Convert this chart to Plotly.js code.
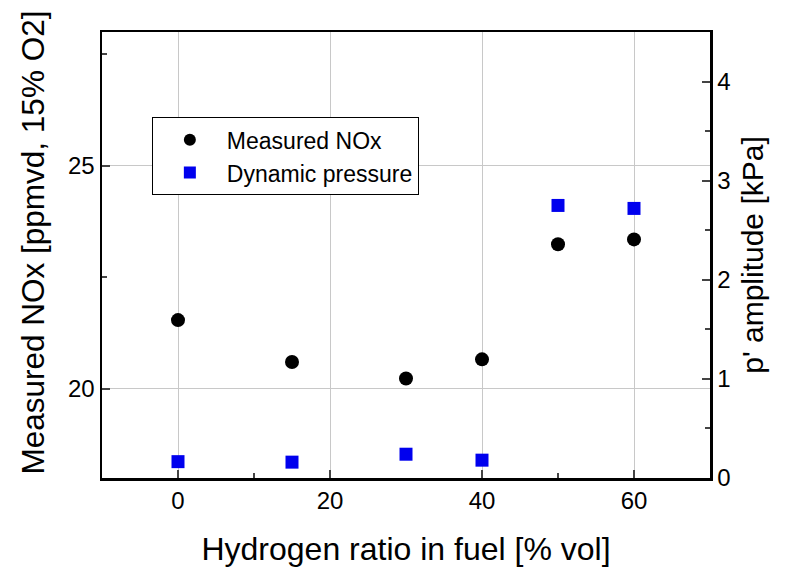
<!DOCTYPE html>
<html><head><meta charset="utf-8">
<script src="https://cdn.plot.ly/plotly-3.0.1.min.js"></script>
<style>body{margin:0;background:#fff}</style>
</head><body>
<div id="chart" style="width:794px;height:577px"></div>
<script>
const hydrogenRatio = [0, 15, 30, 40, 50, 60];
const measuredNOx = [21.54, 20.6, 20.23, 20.66, 23.24, 23.35];
const dynamicPressure = [0.165, 0.16, 0.24, 0.18, 2.75, 2.72];

const fnt = 'Arial, "Liberation Sans", sans-serif';

const traces = [
  {x: hydrogenRatio, y: measuredNOx, name: 'Measured NOx', type: 'scatter', mode: 'markers',
   marker: {symbol: 'circle', size: 14, color: '#000'}, yaxis: 'y'},
  {x: hydrogenRatio, y: dynamicPressure, name: 'Dynamic pressure', type: 'scatter', mode: 'markers',
   marker: {symbol: 'square', size: 13, color: '#0000ee'}, yaxis: 'y2'}
];

const layout = {
  width: 794, height: 577,
  margin: {l: 102, r: 84, t: 32, b: 99},
  paper_bgcolor: '#fff', plot_bgcolor: '#fff',
  font: {family: fnt, color: '#000', size: 24},
  showlegend: true,
  legend: {x: 0.082, y: 0.809, xanchor: 'left', yanchor: 'top', bgcolor: '#fff',
    bordercolor: '#000', borderwidth: 1, font: {size: 23, family: fnt}, itemsizing: 'constant',
    itemwidth: 64, tracegroupgap: 0},
  xaxis: {range: [-10, 70], tickvals: [0, 20, 40, 60], ticks: 'inside', ticklen: 8, tickwidth: 2,
    showline: true, linewidth: 2.5, linecolor: '#000', mirror: true,
    showgrid: true, gridcolor: '#c8c8c8', gridwidth: 1, zeroline: false,
    minor: {ticks: 'inside', tickvals: [10, 50], ticklen: 5, tickwidth: 2, showgrid: false},
    tickfont: {size: 24},
    title: {text: 'Hydrogen ratio in fuel [% vol]', font: {size: 32}, standoff: 25}},
  yaxis: {range: [18, 28], tickvals: [20, 25], ticks: 'inside', ticklen: 8, tickwidth: 2,
    showline: true, linewidth: 2.5, linecolor: '#000',
    showgrid: true, gridcolor: '#c8c8c8', gridwidth: 1, zeroline: false,
    minor: {ticks: 'inside', tickvals: [22.5, 27.5], ticklen: 5, tickwidth: 2, showgrid: false},
    tickfont: {size: 24}},
  yaxis2: {range: [0, 4.5], tickvals: [0, 1, 2, 3, 4], overlaying: 'y', side: 'right',
    ticks: 'inside', ticklen: 8, tickwidth: 2,
    showline: true, linewidth: 2.5, linecolor: '#000', showgrid: false, zeroline: false,
    minor: {ticks: 'inside', tickvals: [0.5, 1.5, 2.5, 3.5], ticklen: 5, tickwidth: 2, showgrid: false},
    tickfont: {size: 24},
    title: {text: "p' amplitude [kPa]", font: {size: 30}, standoff: 13}},
  annotations: [
    {text: 'Measured NOx [ppmvd, 15% O2]', xref: 'paper', yref: 'paper',
     x: -0.1151, y: 0.528, xanchor: 'center', yanchor: 'middle', textangle: -90,
     showarrow: false, font: {size: 31.5, family: fnt, color: '#000'}}
  ]
};

Plotly.newPlot('chart', traces, layout, {displayModeBar: false, staticPlot: true});
</script>
</body></html>
